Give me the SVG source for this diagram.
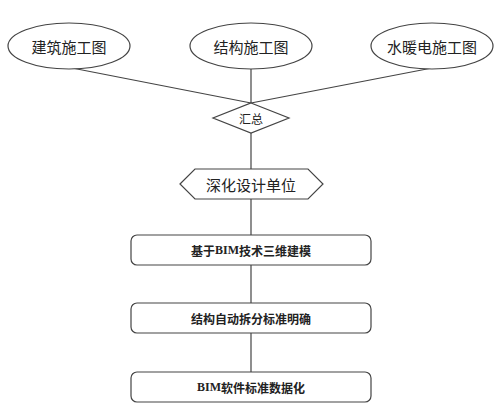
<svg xmlns="http://www.w3.org/2000/svg" width="500" height="408" viewBox="0 0 500 408">
<style>
.s{fill:#fff;stroke:#444;stroke-width:1.2}
.c{stroke:#444;stroke-width:1.2;fill:none}
.t{font-family:"Noto Sans CJK SC","Noto Sans",sans-serif;fill:#222;text-anchor:middle;dominant-baseline:central}
.l{font-size:15px}
.m{font-size:12px}
.b{font-size:12px;font-weight:bold}
.bim{font-family:"Liberation Serif",serif;font-weight:bold}
</style>
<rect width="500" height="408" fill="#fff"/>
<g id="connectors">
<line class="c" x1="72" y1="68" x2="251" y2="103"/>
<line class="c" x1="251" y1="69" x2="251" y2="103"/>
<line class="c" x1="432" y1="68" x2="251" y2="103"/>
<line class="c" x1="251" y1="133" x2="251" y2="169"/>
<line class="c" x1="251" y1="199" x2="251" y2="235"/>
<line class="c" x1="251" y1="265" x2="251" y2="303"/>
<line class="c" x1="251" y1="333" x2="251" y2="372"/>
</g>
<g id="n1"><ellipse class="s" cx="69" cy="46" rx="61" ry="23"/><text class="t l" x="69" y="46">建筑施工图</text></g>
<g id="n2"><ellipse class="s" cx="251" cy="46" rx="61" ry="23"/><text class="t l" x="251" y="46">结构施工图</text></g>
<g id="n3"><ellipse class="s" cx="432" cy="46" rx="61" ry="23"/><text class="t l" x="432" y="46">水暖电施工图</text></g>
<g id="n4"><polygon class="s" points="251,103 289,118 251,133 213,118"/><text class="t m" x="251" y="118">汇总</text></g>
<g id="n5"><polygon class="s" points="180,184 195,169 308,169 323,184 308,199 195,199"/><text class="t l" x="251" y="184">深化设计单位</text></g>
<g id="n6"><rect class="s" x="131" y="235" width="240" height="30" rx="6"/><text class="t b" x="251" y="250">基于<tspan class="bim">BIM</tspan>技术三维建模</text></g>
<g id="n7"><rect class="s" x="131" y="303" width="240" height="30" rx="6"/><text class="t b" x="251" y="318">结构自动拆分标准明确</text></g>
<g id="n8"><rect class="s" x="131" y="372" width="240" height="30" rx="6"/><text class="t b" x="251" y="387"><tspan class="bim">BIM</tspan>软件标准数据化</text></g>
</svg>
